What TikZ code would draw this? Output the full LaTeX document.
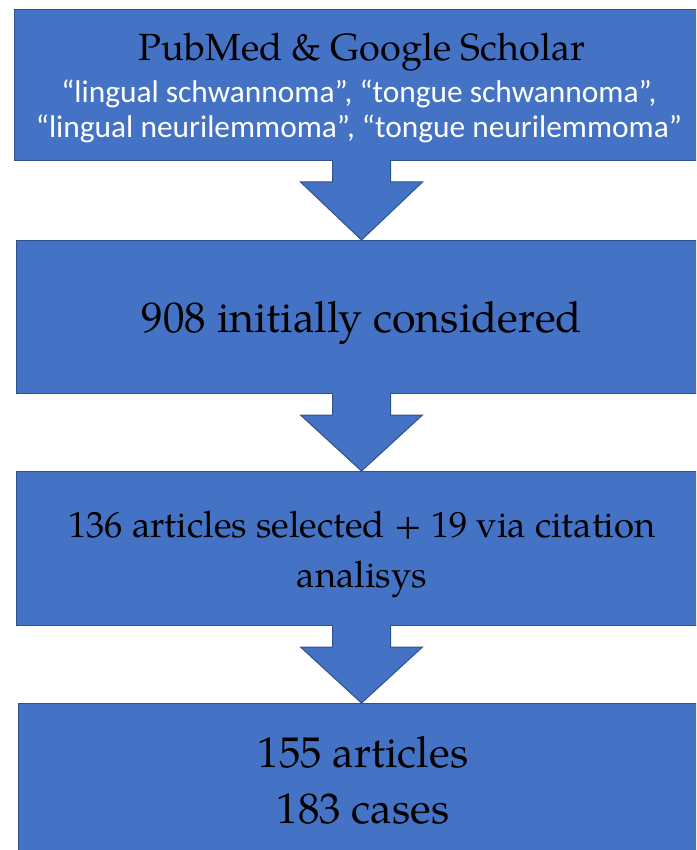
\documentclass[tikz,border=0pt]{standalone}
\usepackage{fontspec}
\setmainfont{TeX Gyre Pagella}
\newfontfamily\calib{Carlito}
\usetikzlibrary{calc}
\definecolor{boxblue}{HTML}{4472C4}
\definecolor{boxline}{HTML}{2F528F}
\newcommand\flowarrow[2]{%
  \coordinate (tmpA) at (axis |- #1.south);
  \draw[arr] ($(tmpA)+(-29,-1)$) -- ($(tmpA)+(-29,21)$) -- ($(tmpA)+(-61,21)$)
    -- (axis |- #2.north) -- ($(tmpA)+(61,21)$) -- ($(tmpA)+(29,21)$)
    -- ($(tmpA)+(29,-1)$);
  \fill[boxblue] ($(tmpA)+(-28.5,-1)$) rectangle ($(tmpA)+(28.5,2)$);}
\begin{document}
\begin{tikzpicture}[x=1pt,y=-1pt,
  box/.style={draw=boxline, fill=boxblue, line width=1pt, rectangle, inner sep=0pt},
  arr/.style={draw=boxline, fill=boxblue, line width=1pt, line join=miter},
  serif/.style={anchor=base, text=black},
  kw/.style={anchor=base, text=white, font=\calib\fontsize{31.4}{36}\selectfont}]
\useasboundingbox (0,0) rectangle (696,850);
\clip (0,0) rectangle (696,850);
\fill[white] (0,0) rectangle (696,850);
\coordinate (axis) at (361.5,0);
\node[box, minimum width=760, minimum height=151, anchor=north west] (b1) at (14,9) {};
\node[box, minimum width=760, minimum height=153, anchor=north west] (b2) at (16,240) {};
\node[box, minimum width=760, minimum height=154, anchor=north west] (b3) at (16,471) {};
\node[box, minimum width=760, minimum height=200, anchor=north west] (b4) at (18,703) {};
\flowarrow{b1}{b2}
\flowarrow{b2}{b3}
\flowarrow{b3}{b4}
\node[serif, font=\fontsize{37.9}{42}\selectfont] (t1) at (362,61) {PubMed \& Google Scholar};
\node[kw] (t2) at (359,103) {“lingual schwannoma”, “tongue schwannoma”,};
\node[kw] (t3) at (359,138) {“lingual neurilemmoma”, “tongue neurilemmoma”};
\node[serif, font=\fontsize{43}{48}\selectfont] (t4) at (362,332) {908 initially considered};
\node[serif, font=\fontsize{36.5}{40}\selectfont] (t5) at (362,537) {136 articles selected + 19 via citation};
\node[serif, font=\fontsize{36.5}{40}\selectfont] (t6) at (362,587) {analisys};
\node[serif, font=\fontsize{43}{48}\selectfont] (t7) at (363,767) {155 articles};
\node[serif, font=\fontsize{43}{48}\selectfont] (t8) at (363,823) {183 cases};
\end{tikzpicture}
\end{document}
